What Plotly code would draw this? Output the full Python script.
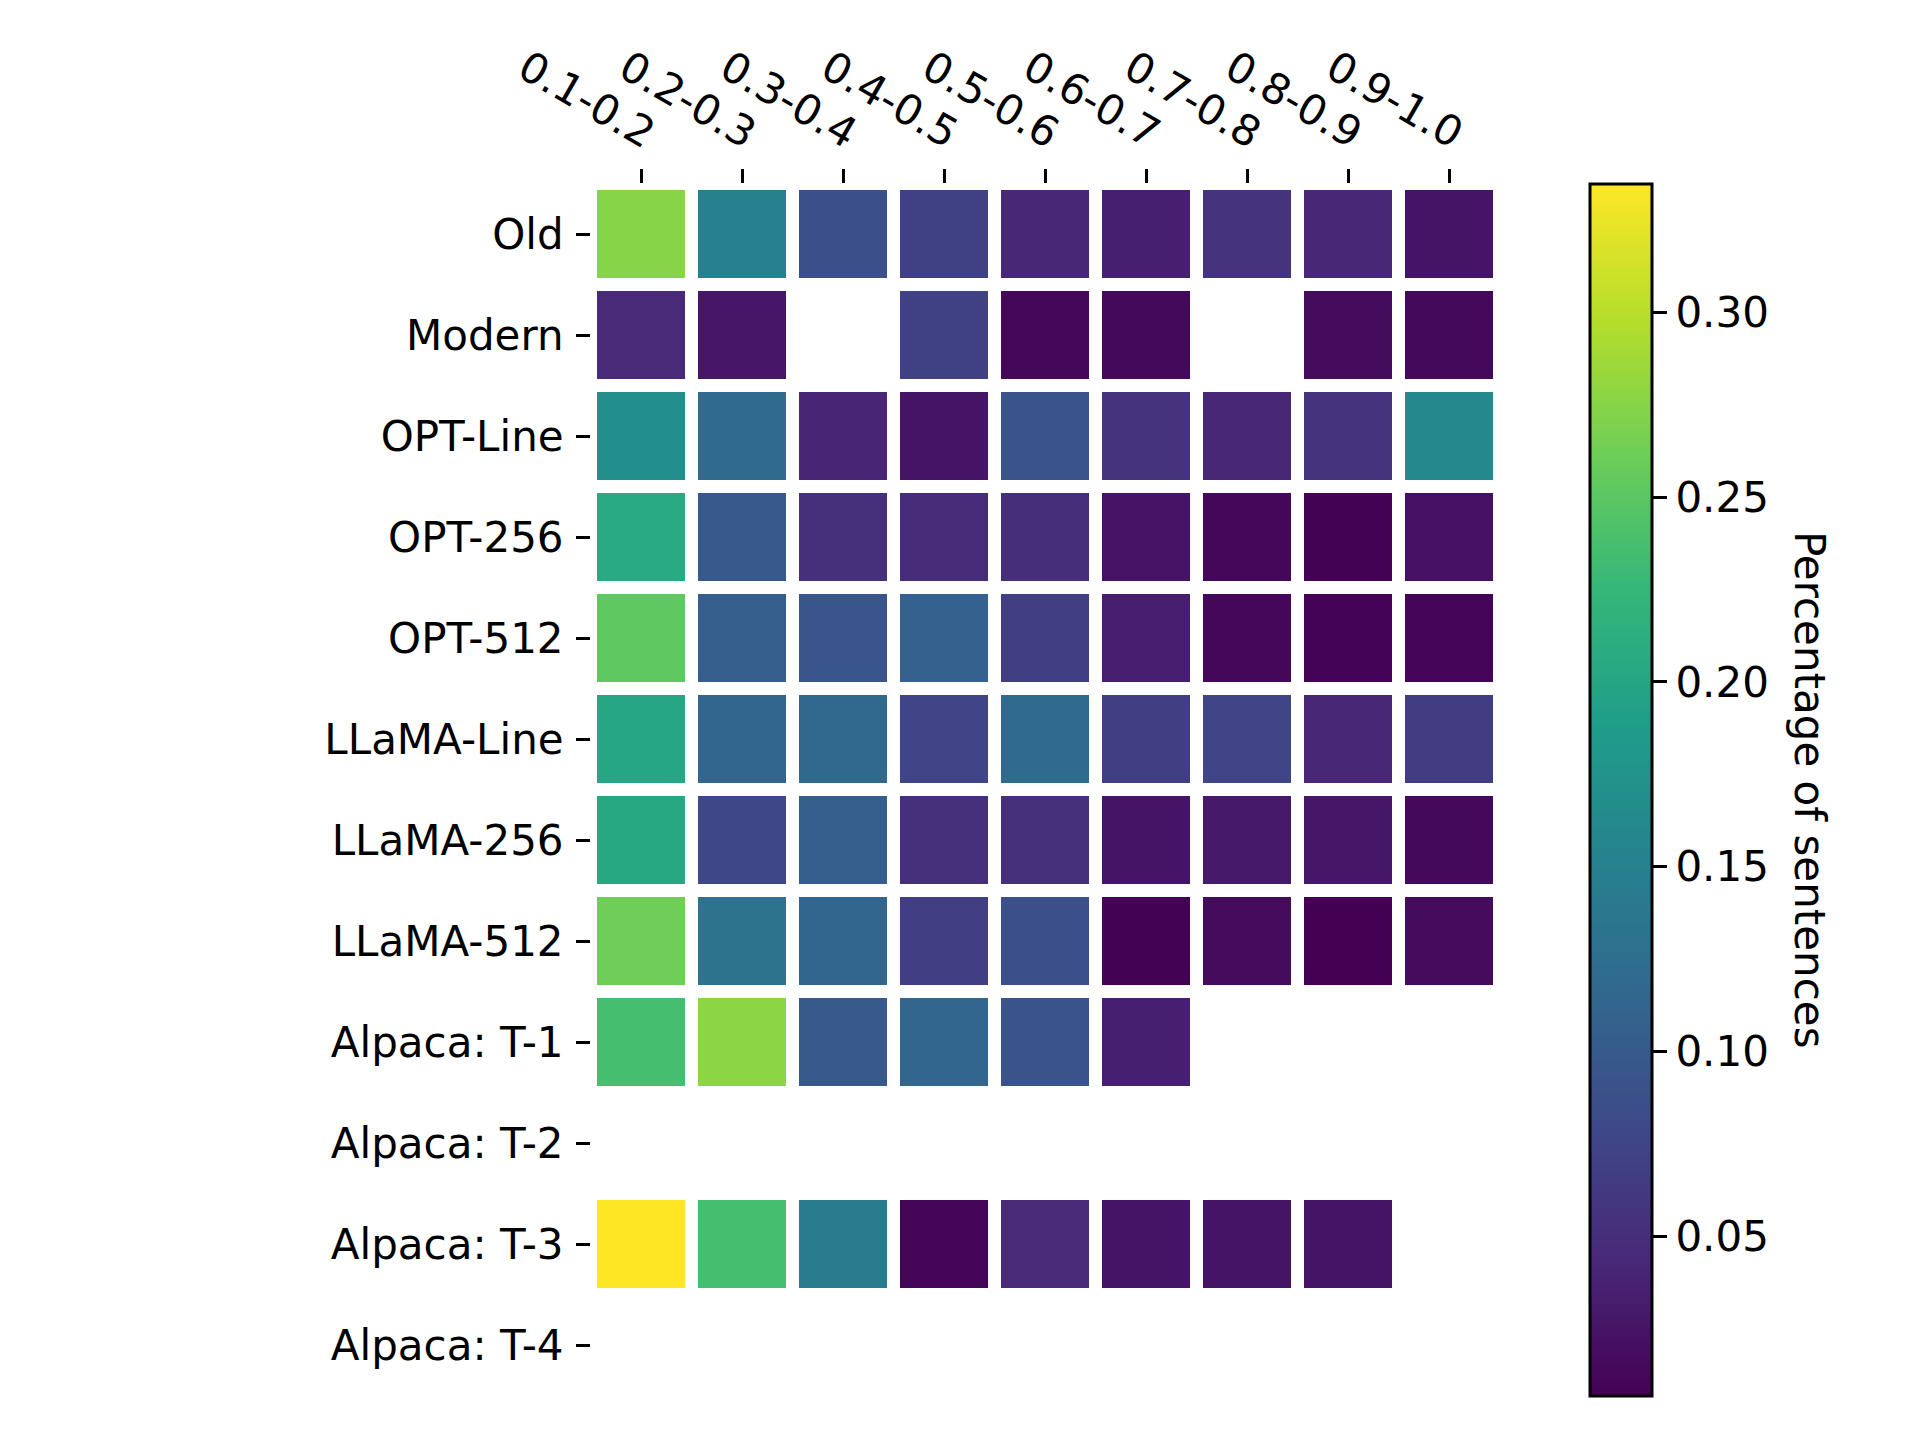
import plotly.graph_objects as go

bins = ["0.1-0.2", "0.2-0.3", "0.3-0.4", "0.4-0.5", "0.5-0.6",
        "0.6-0.7", "0.7-0.8", "0.8-0.9", "0.9-1.0"]
models = ["Old", "Modern", "OPT-Line", "OPT-256", "OPT-512", "LLaMA-Line",
          "LLaMA-256", "LLaMA-512", "Alpaca: T-1", "Alpaca: T-2",
          "Alpaca: T-3", "Alpaca: T-4"]

# share of sentences per similarity bin (None = no data)
old = [0.275, 0.150, 0.088, 0.071, 0.042, 0.035, 0.055, 0.042, 0.025]
modern = [0.045, 0.027, None, 0.071, 0.012, 0.014, None, 0.016, 0.014]
opt_line = [0.170, 0.121, 0.040, 0.025, 0.091, 0.055, 0.042, 0.055, 0.160]
opt_256 = [0.206, 0.098, 0.052, 0.048, 0.050, 0.024, 0.012, 0.0078, 0.022]
opt_512 = [0.252, 0.104, 0.094, 0.108, 0.068, 0.034, 0.012, 0.0088, 0.0095]
llama_line = [0.200, 0.114, 0.117, 0.075, 0.121, 0.068, 0.075, 0.042, 0.065]
llama_256 = [0.203, 0.078, 0.104, 0.052, 0.052, 0.025, 0.029, 0.027, 0.014]
llama_512 = [0.262, 0.131, 0.114, 0.068, 0.088, 0.0078, 0.017, 0.0068, 0.016]
alpaca_t1 = [0.236, 0.277, 0.098, 0.114, 0.091, 0.035, None, None, None]
alpaca_t2 = [None] * 9
alpaca_t3 = [0.3347, 0.236, 0.144, 0.011, 0.045, 0.025, 0.025, 0.025, None]
alpaca_t4 = [None] * 9

z = [old, modern, opt_line, opt_256, opt_512, llama_line, llama_256,
     llama_512, alpaca_t1, alpaca_t2, alpaca_t3, alpaca_t4]

# page has an 8px body margin, so the figure is 16px smaller and shifted
W, H = 1904, 1424
L, R, T, B = 583, 1492, 176, 1388   # plot area in figure pixels
FONT = dict(family="DejaVu Sans", size=42, color="black")

fig = go.Figure(go.Heatmap(
    z=z, x=bins, y=models,
    colorscale="Viridis",
    xgap=13, ygap=13,
    hoverongaps=False,
    colorbar=dict(
        thickness=62, lenmode="pixels", len=B - T,
        x=(1582 - L) / (R - L), xanchor="left", xpad=0,
        y=0.5, yanchor="middle", ypad=0,
        outlinewidth=3, outlinecolor="black",
        tickvals=[0.05, 0.10, 0.15, 0.20, 0.25, 0.30],
        tickformat=".2f",
        ticks="outside", ticklen=14, tickwidth=3, tickcolor="black",
        tickfont=FONT,
    ),
))

fig.update_xaxes(side="top", tickangle=30, ticks="outside", ticklen=14,
                 tickwidth=3, tickcolor="black", tickfont=FONT,
                 ticklabelshift=13,
                 showgrid=False, zeroline=False, showline=False)
fig.update_yaxes(autorange="reversed", ticks="outside", ticklen=14,
                 tickwidth=3, tickcolor="black", tickfont=FONT,
                 ticklabelstandoff=4,
                 showgrid=False, zeroline=False, showline=False)

fig.add_annotation(text="Percentage of sentences", textangle=90,
                   x=(1802 - L) / (R - L), y=0.5,
                   xref="paper", yref="paper", xanchor="center",
                   yanchor="middle", showarrow=False, font=FONT)

fig.update_layout(
    width=W, height=H,
    margin=dict(l=L, r=W - R, t=T, b=H - B),
    plot_bgcolor="white", paper_bgcolor="white",
)

fig.write_html("out.html")
